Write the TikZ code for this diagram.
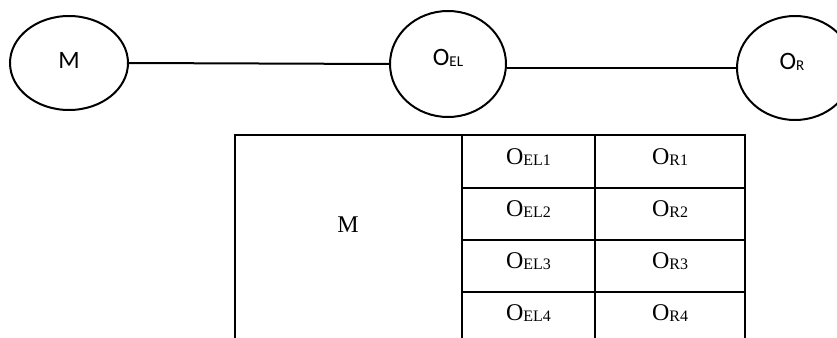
\documentclass[tikz,border=0pt]{standalone}
\usepackage{fontspec}
\setmainfont{Liberation Serif}
\newfontfamily\calib{Carlito}
\usetikzlibrary{shapes.geometric}
\newcommand\tsub[1]{\raisebox{-1.2pt}{\fontsize{16}{16}\selectfont #1}}
\newcommand\esub[1]{\raisebox{-0.5pt}{\fontsize{15}{15}\selectfont #1}}
\tikzset{
  bubble/.style={ellipse, draw, line width=2pt, inner sep=0pt},
  etext/.style={anchor=base, inner sep=0pt, font=\calib\fontsize{25}{25}\selectfont},
  ttext/.style={anchor=base, inner sep=0pt, font=\fontsize{24}{24}\selectfont},
  link/.style={line width=2pt},
  grid/.style={line width=2pt, line cap=rect}
}
\begin{document}
\begin{tikzpicture}[x=1pt,y=-1pt]
\useasboundingbox (0,0) rectangle (837,337);
% top ellipses
\node[bubble, minimum width=118pt, minimum height=94pt] (M) at (69,63) {};
\node[bubble, minimum width=116pt, minimum height=106pt] (OEL) at (448,64) {};
\node[bubble, minimum width=116pt, minimum height=104pt] (OR) at (795,68) {};
\node[etext] (tM) at (69,68) {M};
\node[etext] (tOEL) at (448,66) {O\esub{EL}};
\node[etext] (tOR) at (792,70) {O\esub{R}};
\draw[link] (M.east) -- (OEL.west);
\draw[link] (OEL.east |- OR.west) -- (OR.west);
% table grid
\coordinate (tl) at (235,135);
\coordinate (tr) at (745,135);
\coordinate (bl) at (235,337);
\coordinate (c1t) at (462,135);
\coordinate (c1b) at (462,337);
\coordinate (c2t) at (595,135);
\coordinate (c2b) at (595,337);
\coordinate (br) at (745,337);
\draw[grid] (bl) -- (tl) -- (tr) -- (br);
\draw[grid] (c1t) -- (c1b);
\draw[grid] (c2t) -- (c2b);
\foreach \yy/\nm in {188/r1, 240/r2, 292/r3} {
  \coordinate (\nm a) at (462,\yy);
  \coordinate (\nm b) at (745,\yy);
  \draw[grid] (\nm a) -- (\nm b);
}
% table text
\node[ttext] (tabM) at (348,232) {M};
\node[ttext] (e1) at (528.5,164) {O\tsub{EL1}};
\node[ttext] (e2) at (528.5,216) {O\tsub{EL2}};
\node[ttext] (e3) at (528.5,268) {O\tsub{EL3}};
\node[ttext] (e4) at (528.5,320) {O\tsub{EL4}};
\node[ttext] (r1) at (670,164) {O\tsub{R1}};
\node[ttext] (r2) at (670,216) {O\tsub{R2}};
\node[ttext] (r3) at (670,268) {O\tsub{R3}};
\node[ttext] (r4) at (670,320) {O\tsub{R4}};
\end{tikzpicture}
\end{document}
